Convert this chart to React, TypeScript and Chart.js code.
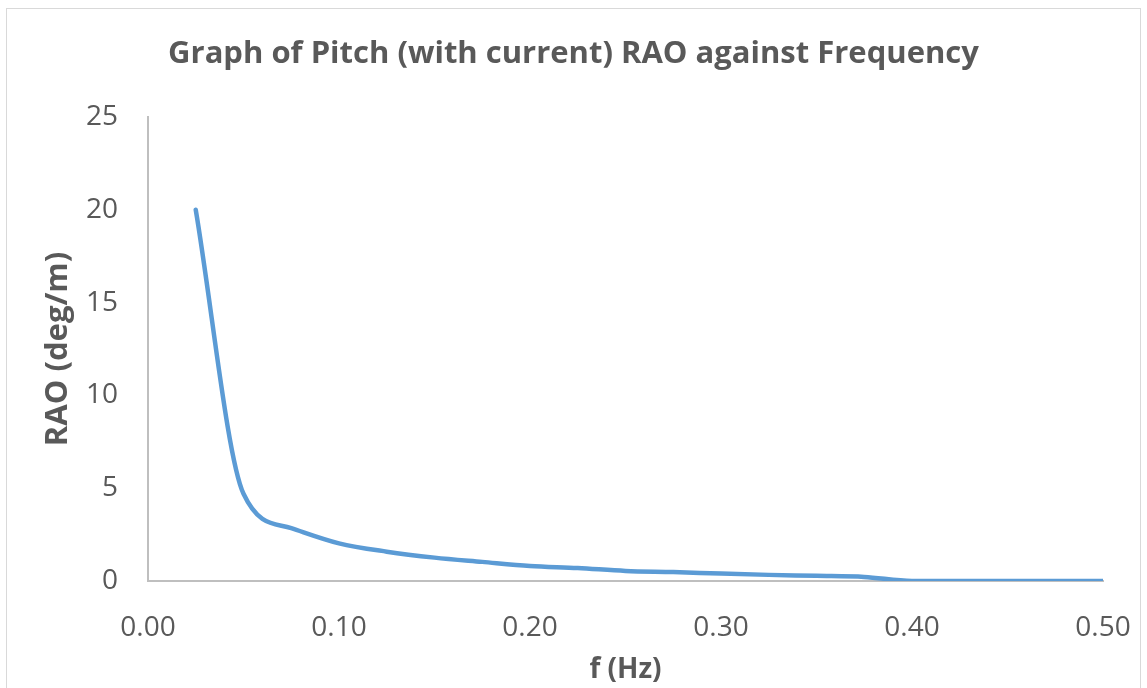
import React, { useEffect, useRef } from "react";
import { Chart, registerables } from "chart.js";

Chart.register(...registerables);

// Pitch RAO (with current) sampled against wave frequency
const frequencies = [0.025, 0.05, 0.075, 0.1, 0.125, 0.15, 0.175, 0.2, 0.225, 0.25, 0.275, 0.3, 0.325, 0.35, 0.375, 0.4, 0.425, 0.45, 0.475, 0.5];
const raoValues = [20, 4.7, 2.85, 2.03, 1.58, 1.26, 1.03, 0.81, 0.7, 0.54, 0.48, 0.4, 0.33, 0.28, 0.22, 0, 0, 0, 0, 0];

const xTicks = [0, 0.1, 0.2, 0.3, 0.4, 0.5];
const yTicks = [0, 5, 10, 15, 20, 25];

const TITLE = "Graph of Pitch (with current) RAO against Frequency";
const TEXT = "#595959";
const AXIS = "#BFBFBF";
const FONT = "'Open Sans', 'Noto Sans', sans-serif";

// White background, outer frame and the centred chart title
const frame = {
  id: "frame",
  beforeDraw(chart: Chart) {
    const { ctx } = chart;
    ctx.save();
    ctx.fillStyle = "#ffffff";
    ctx.fillRect(0, 0, chart.width, chart.height);
    ctx.strokeStyle = "#D9D9D9";
    ctx.lineWidth = 1;
    ctx.strokeRect(6.5, 8.5, 1134, 700);
    ctx.fillStyle = TEXT;
    ctx.font = `bold 31px ${FONT}`;
    ctx.textAlign = "center";
    ctx.textBaseline = "alphabetic";
    ctx.fillText(TITLE, chart.width / 2, 63);
    ctx.restore();
  },
};

export default function App() {
  const canvasRef = useRef<HTMLCanvasElement | null>(null);

  useEffect(() => {
    if (!canvasRef.current) return;
    const chart = new Chart(canvasRef.current, {
      type: "line",
      data: {
        datasets: [
          {
            label: "Pitch RAO",
            data: frequencies.map((f, i) => ({ x: f, y: raoValues[i] })),
            borderColor: "#5B9BD5",
            borderWidth: 4.5,
            pointRadius: 0,
            fill: false,
            cubicInterpolationMode: "monotone",
            borderCapStyle: "round",
            borderJoinStyle: "round",
          },
        ],
      },
      options: {
        responsive: false,
        animation: false,
        layout: { padding: { left: 0, right: 44, top: 117, bottom: 0 } },
        plugins: {
          legend: { display: false },
          tooltip: { enabled: false },
          title: { display: false },
        },
        scales: {
          x: {
            type: "linear",
            min: 0,
            max: 0.5,
            afterBuildTicks(scale: any) {
              scale.ticks = xTicks.map((v) => ({ value: v }));
            },
            afterFit(scale: any) {
              scale.height = 107;
              scale.paddingLeft = 0;
              scale.paddingRight = 0;
            },
            grid: { display: false, drawTicks: false },
            border: { display: true, color: AXIS, width: 2 },
            ticks: {
              color: TEXT,
              font: { family: FONT, size: 28 },
              padding: 30,
              maxRotation: 0,
              callback: (v: any) => Number(v).toFixed(2),
            },
            title: {
              display: true,
              text: "f (Hz)",
              color: TEXT,
              font: { family: FONT, size: 28, weight: "bold" },
              padding: { top: 0, bottom: 1 },
            },
          },
          y: {
            min: 0,
            max: 25,
            afterBuildTicks(scale: any) {
              scale.ticks = yTicks.map((v) => ({ value: v }));
            },
            afterFit(scale: any) {
              scale.width = 148;
              scale.paddingTop = 0;
              scale.paddingBottom = 0;
            },
            grid: { display: false, drawTicks: false },
            border: { display: true, color: AXIS, width: 2 },
            ticks: {
              color: TEXT,
              font: { family: FONT, size: 28 },
              padding: 30,
            },
            title: {
              display: true,
              text: "RAO (deg/m)",
              color: TEXT,
              font: { family: FONT, size: 31, weight: "bold" },
              padding: { top: 40, bottom: 0 },
            },
          },
        },
      },
      plugins: [frame],
    });
    return () => chart.destroy();
  }, []);

  return (
    <div style={{ position: "absolute", left: 0, top: 0, width: 1147, height: 688 }}>
      <canvas ref={canvasRef} width={1147} height={688} />
    </div>
  );
}
